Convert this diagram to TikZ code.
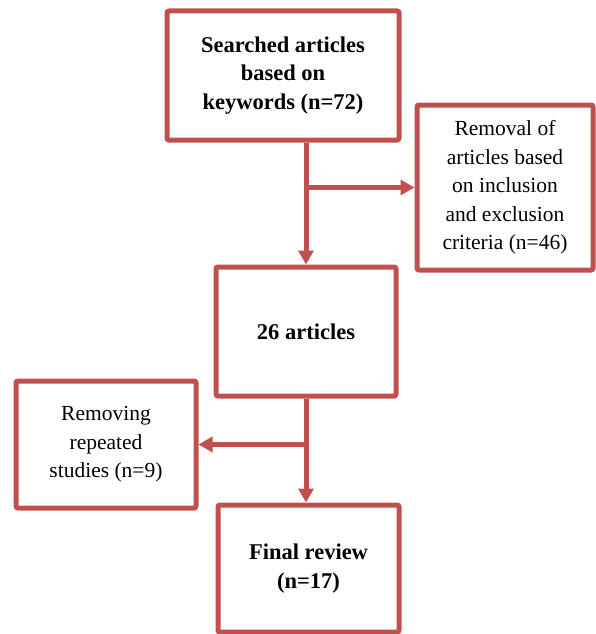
\documentclass[tikz,border=0pt]{standalone}
\usepackage{fontspec}
\setmainfont{Liberation Serif}
\usetikzlibrary{arrows.meta}
\definecolor{boxred}{HTML}{C0504D}
\begin{document}
\begin{tikzpicture}[x=1pt,y=-1pt,
        stage/.style={draw=boxred,line width=5pt,rounded corners=2pt,align=center,fill=white,
            font=\fontsize{21.5}{28.5}\selectfont},
        headstage/.style={stage,font=\fontsize{22.5}{28.5}\selectfont\bfseries},
        flow/.style={draw=boxred,line width=5pt,-{Triangle[length=14pt,width=15pt]}}]
        \useasboundingbox (0,0) rectangle (595,634);
        \node[headstage,minimum width=232pt,minimum height=129pt](search)at(283,75.5){Searched articles\\based on\\keywords (n=72)};
        \node[stage,minimum width=176pt,minimum height=165pt](removal)at(505,187.5){Removal of\\articles based\\on inclusion\\and exclusion\\criteria (n=46)};
        \node[headstage,minimum width=180pt,minimum height=129pt](count)at(306,331.5){26 articles};
        \node[stage,minimum width=180pt,minimum height=127pt](repeat)at(106,444.5){Removing\\repeated\\studies (n=9)};
        \node[headstage,minimum width=181pt,minimum height=127pt](final)at(308.5,568.5){Final review\\(n=17)};
        \draw[flow](search.south -| count.north)--(count.north);
        \draw[flow](count.north |- removal.west)--(removal.west);
        \draw[flow](count.south)--(count.south |- final.north);
        \draw[flow](count.south |- repeat.east)--(repeat.east);
    \end{tikzpicture}
\end{document}
